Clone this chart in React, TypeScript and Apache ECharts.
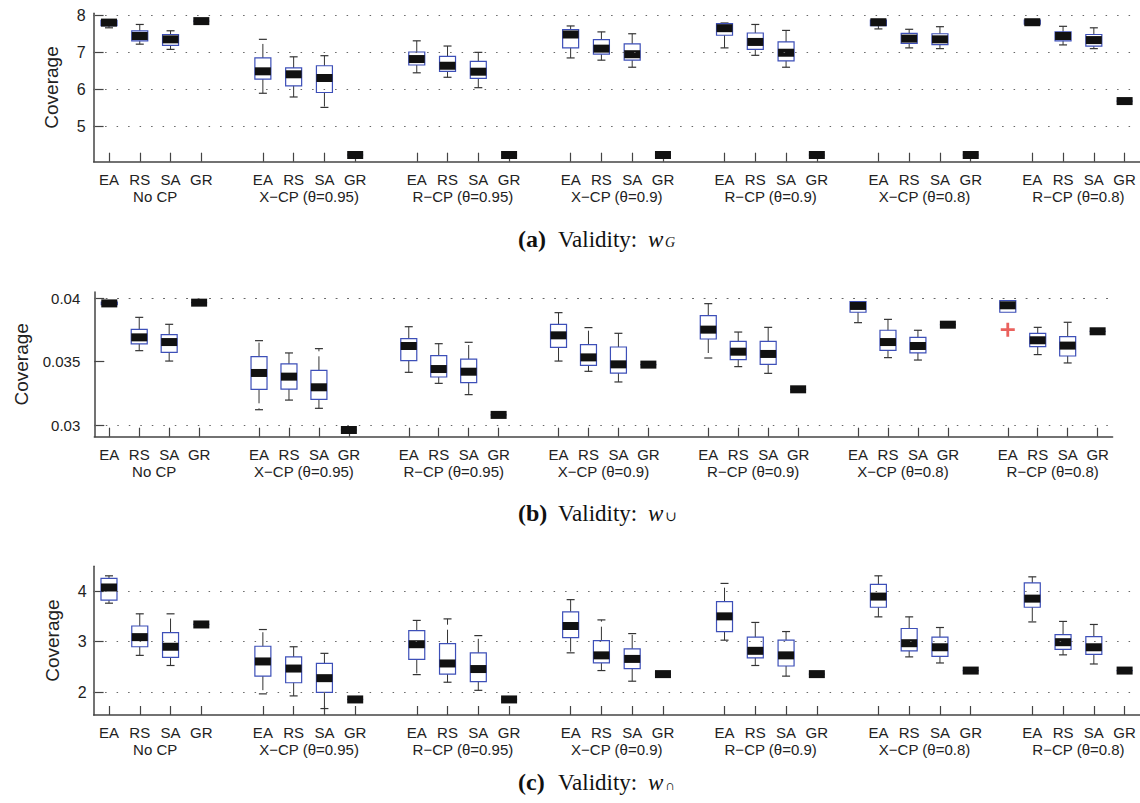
import React, { useEffect, useRef } from 'react';
import * as echarts from 'echarts';

// ---- categories ----
const groups = ['No CP', 'X−CP (θ=0.95)', 'R−CP (θ=0.95)', 'X−CP (θ=0.9)', 'R−CP (θ=0.9)', 'X−CP (θ=0.8)', 'R−CP (θ=0.8)'];
const methods = ['EA', 'RS', 'SA', 'GR'];

// ---- panel (a) Validity w_G : [min, q1, median, q3, max] per group ----
const aEA = [[7.66, 7.72, 7.8, 7.86, 7.88], [5.9, 6.28, 6.49, 6.85, 7.35], [6.45, 6.66, 6.82, 7.01, 7.31], [6.85, 7.12, 7.48, 7.61, 7.71], [7.12, 7.46, 7.65, 7.77, 7.79], [7.63, 7.72, 7.81, 7.87, 7.87], [7.76, 7.76, 7.81, 7.87, 7.87]];
const aRS = [[7.22, 7.31, 7.44, 7.58, 7.75], [5.8, 6.1, 6.41, 6.58, 6.88], [6.33, 6.49, 6.64, 6.89, 7.17], [6.79, 6.95, 7.1, 7.34, 7.55], [6.92, 7.08, 7.28, 7.52, 7.75], [7.12, 7.24, 7.37, 7.51, 7.62], [7.2, 7.31, 7.44, 7.55, 7.7]];
const aSA = [[7.08, 7.19, 7.35, 7.48, 7.58], [5.52, 5.92, 6.31, 6.64, 6.91], [6.05, 6.3, 6.48, 6.76, 7.0], [6.6, 6.79, 6.95, 7.23, 7.5], [6.6, 6.77, 6.99, 7.28, 7.59], [7.1, 7.21, 7.35, 7.5, 7.69], [7.1, 7.17, 7.33, 7.48, 7.66]];
const aGR = [7.84, 4.24, 4.24, 4.24, 4.24, 4.24, 5.69];

// ---- panel (b) Validity w_∪ ----
const bEA = [[0.0395, 0.0395, 0.0396, 0.0397, 0.0397], [0.03121, 0.03282, 0.03411, 0.0354, 0.03666], [0.03416, 0.03508, 0.03624, 0.03682, 0.03776], [0.03505, 0.03613, 0.03708, 0.03795, 0.03887], [0.03529, 0.03679, 0.03753, 0.03863, 0.03958], [0.03808, 0.0389, 0.0394, 0.03974, 0.03974], [0.0389, 0.0389, 0.03945, 0.03982, 0.03982]];
const bRS = [[0.03587, 0.0364, 0.03692, 0.03755, 0.0385], [0.03197, 0.03284, 0.03382, 0.03482, 0.03569], [0.03329, 0.03379, 0.03442, 0.03548, 0.03642], [0.03424, 0.03471, 0.03534, 0.03634, 0.03769], [0.03461, 0.03516, 0.03579, 0.0366, 0.03734], [0.03532, 0.0359, 0.03655, 0.03748, 0.03834], [0.03556, 0.03619, 0.03669, 0.03724, 0.03771]];
const bSA = [[0.03505, 0.03574, 0.03655, 0.03713, 0.03795], [0.03132, 0.03203, 0.03298, 0.03432, 0.03603], [0.0324, 0.03335, 0.03421, 0.03521, 0.03653], [0.0334, 0.0341, 0.03479, 0.03616, 0.03724], [0.03408, 0.03479, 0.03561, 0.0366, 0.03771], [0.03513, 0.03569, 0.03624, 0.03692, 0.03748], [0.0349, 0.03545, 0.03627, 0.03698, 0.03811]];
const bGR = [0.03966, 0.02961, 0.0308, 0.03477, 0.03282, 0.03792, 0.0374];
const bOutliers = [[6, 0, 0.03753]]; // [group, method, value]

// ---- panel (c) Validity w_∩ ----
const cEA = [[3.76, 3.82, 4.07, 4.25, 4.3], [1.97, 2.32, 2.61, 2.91, 3.24], [2.35, 2.65, 2.95, 3.22, 3.42], [2.78, 3.08, 3.31, 3.59, 3.83], [3.03, 3.2, 3.5, 3.79, 4.15], [3.49, 3.68, 3.89, 4.13, 4.3], [3.39, 3.68, 3.85, 4.16, 4.28]];
const cRS = [[2.73, 2.9, 3.09, 3.31, 3.55], [1.93, 2.19, 2.47, 2.7, 2.9], [2.2, 2.36, 2.57, 2.96, 3.45], [2.43, 2.58, 2.73, 3.02, 3.43], [2.53, 2.68, 2.82, 3.09, 3.38], [2.7, 2.82, 2.97, 3.26, 3.49], [2.74, 2.85, 2.99, 3.14, 3.4]];
const cSA = [[2.53, 2.69, 2.9, 3.18, 3.55], [1.68, 2.0, 2.28, 2.57, 2.77], [2.04, 2.21, 2.46, 2.78, 3.12], [2.22, 2.47, 2.66, 2.86, 3.16], [2.32, 2.52, 2.73, 3.03, 3.2], [2.58, 2.71, 2.89, 3.09, 3.28], [2.56, 2.75, 2.89, 3.1, 3.34]];
const cGR = [3.34, 1.86, 1.86, 2.36, 2.36, 2.43, 2.43];

// ---- y ticks ----
const aTicks = [5, 6, 7, 8];
const bTicks = [0.03, 0.035, 0.04];
const cTicks = [2, 3, 4];

const captionLetters = ['(a)', '(b)', '(c)'];
const captionSubs = ['G', '∪', '∩'];

const SANS = "'Liberation Sans', Arial, Helvetica, sans-serif";
const SERIF = "'Liberation Serif', 'DejaVu Serif', serif";

const categories: string[] = [];
groups.forEach((g, gi) => {
  methods.forEach((m) => categories.push(`${m}|${gi}`));
  if (gi < groups.length - 1) categories.push(`|${gi}`);
});
const slotOf = (g: number, m: number) => g * 5 + m;

function buildBoxData(ea: number[][], rs: number[][], sa: number[][], gr: number[]) {
  const out: number[][] = [];
  groups.forEach((_, g) => {
    out.push([slotOf(g, 0), ...ea[g]]);
    out.push([slotOf(g, 1), ...rs[g]]);
    out.push([slotOf(g, 2), ...sa[g]]);
    out.push([slotOf(g, 3), gr[g], gr[g], gr[g], gr[g], gr[g]]);
  });
  return out;
}

const renderBox = (params: any, api: any) => {
  const slot = api.value(0);
  const mn = api.value(1), q1 = api.value(2), md = api.value(3), q3 = api.value(4), mx = api.value(5);
  const x = api.coord([slot, md])[0];
  const y = (v: number) => api.coord([slot, v])[1];
  const hw = 8, cw = 4;
  const children: any[] = [];
  const wStyle = { stroke: '#333', lineWidth: 1, lineDash: [14, 5] };
  const cStyle = { stroke: '#333', lineWidth: 1.2 };
  if (mx > q3) {
    children.push({ type: 'line', shape: { x1: x, y1: y(q3), x2: x, y2: y(mx) }, style: wStyle });
    children.push({ type: 'line', shape: { x1: x - cw, y1: y(mx), x2: x + cw, y2: y(mx) }, style: cStyle });
  }
  if (mn < q1) {
    children.push({ type: 'line', shape: { x1: x, y1: y(q1), x2: x, y2: y(mn) }, style: wStyle });
    children.push({ type: 'line', shape: { x1: x - cw, y1: y(mn), x2: x + cw, y2: y(mn) }, style: cStyle });
  }
  children.push({ type: 'rect', shape: { x: x - hw, y: y(q3), width: 2 * hw, height: y(q1) - y(q3) }, style: { fill: 'none', stroke: '#3d4fb8', lineWidth: 1.2 } });
  children.push({ type: 'rect', shape: { x: x - hw, y: y(md) - 4, width: 2 * hw, height: 8 }, style: { fill: '#111' } });
  return { type: 'group', children };
};

const makeLabelRenderer = (yMin: number) => (params: any, api: any) => {
  const g = params.dataIndex;
  const p1 = api.coord([slotOf(g, 1), yMin]);
  const p2 = api.coord([slotOf(g, 2), yMin]);
  return {
    type: 'text',
    x: (p1[0] + p2[0]) / 2,
    y: p1[1] + 27,
    style: { text: groups[g], align: 'center', verticalAlign: 'top', fontSize: 15, fontFamily: SANS, fill: '#222' },
  };
};

const panels = [
  { data: buildBoxData(aEA, aRS, aSA, aGR), ticks: aTicks, min: 4.06, max: 8.05, grid: { left: 93.6, top: 13.3, width: 1048.3, height: 148.4 }, labelFont: 16, labelMargin: 8, nameGap: 33 },
  { data: buildBoxData(bEA, bRS, bSA, bGR), ticks: bTicks, min: 0.02908, max: 0.0405, grid: { left: 94.3, top: 292, width: 1018.3, height: 144.7 }, labelFont: 15, labelMargin: 14, nameGap: 63 },
  { data: buildBoxData(cEA, cRS, cSA, cGR), ticks: cTicks, min: 1.553, max: 4.49, grid: { left: 93.6, top: 566.2, width: 1048.3, height: 148.8 }, labelFont: 16, labelMargin: 7, nameGap: 32 },
];

const captionY = [240, 514, 783];

export default function App() {
  const ref = useRef<HTMLDivElement>(null);
  useEffect(() => {
    document.body.style.margin = '0';
    if (!ref.current) return;
    const chart = echarts.init(ref.current, null, { renderer: 'svg' });
    const axisColor = '#444';
    const option: any = {
      animation: false,
      backgroundColor: '#fff',
      grid: panels.map((p) => ({ ...p.grid, containLabel: false })),
      xAxis: panels.map((p, i) => ({
        type: 'category',
        gridIndex: i,
        data: categories,
        boundaryGap: true,
        axisLine: { show: true, lineStyle: { color: axisColor, width: 1.5 } },
        axisTick: {
          show: true, inside: true, length: 9, alignWithLabel: true,
          interval: (idx: number, val: string) => !String(val).startsWith('|'),
          lineStyle: { color: axisColor, width: 1.2 },
        },
        axisLabel: {
          interval: 0, margin: 10, fontSize: 15, fontFamily: SANS, color: '#222',
          formatter: (v: string) => String(v).split('|')[0],
        },
        splitLine: { show: false },
      })),
      yAxis: panels.map((p, i) => ({
        type: 'value',
        gridIndex: i,
        min: p.min,
        max: p.max,
        axisLine: { show: true, lineStyle: { color: axisColor, width: 1.5 } },
        axisTick: { show: true, inside: true, length: 10, customValues: p.ticks, lineStyle: { color: axisColor, width: 1.2 } },
        axisLabel: { customValues: p.ticks, margin: p.labelMargin, fontSize: p.labelFont, fontFamily: SANS, color: '#222' },
        splitLine: { show: false },
        name: 'Coverage',
        nameLocation: 'middle',
        nameGap: p.nameGap,
        nameTextStyle: { fontSize: 19, fontFamily: SANS, color: '#222' },
      })),
      series: [
        ...panels.map((p, i) => ({
          type: 'custom',
          name: `boxes${i}`,
          xAxisIndex: i,
          yAxisIndex: i,
          clip: false,
          encode: { x: 0, y: [1, 2, 3, 4, 5] },
          data: p.data,
          renderItem: renderBox,
          markLine: {
            silent: true,
            symbol: ['none', 'none'],
            label: { show: false },
            lineStyle: { type: [1.5, 10], color: '#666', width: 1.2 },
            data: p.ticks.map((t) => ({ yAxis: t })),
          },
          z: 2,
        })),
        ...panels.map((p, i) => ({
          type: 'custom',
          name: `groupLabels${i}`,
          xAxisIndex: i,
          yAxisIndex: i,
          clip: false,
          silent: true,
          data: groups.map((_, g) => [slotOf(g, 1), p.min]),
          renderItem: makeLabelRenderer(p.min),
        })),
        {
          type: 'scatter',
          xAxisIndex: 1,
          yAxisIndex: 1,
          symbol: 'path://M4 0H6V4H10V6H6V10H4V6H0V4H4Z',
          symbolSize: 14,
          itemStyle: { color: '#e53935' },
          data: bOutliers.map(([g, m, v]) => [slotOf(g, m), v]),
          z: 3,
        },
      ],
      graphic: captionLetters.map((letter, i) => ({
        type: 'group',
        left: 518,
        top: captionY[i] - 13,
        children: [
          { type: 'text', x: 0, y: 0, style: { text: letter, fontSize: 24, fontWeight: 'bold', fontFamily: SERIF, fill: '#111', verticalAlign: 'top' } },
          { type: 'text', x: 40, y: 1, style: { text: 'Validity:', fontSize: 23, fontFamily: SERIF, fill: '#111', verticalAlign: 'top' } },
          { type: 'text', x: 130, y: 1, style: { text: 'w', fontSize: 23, fontStyle: 'italic', fontFamily: SERIF, fill: '#111', verticalAlign: 'top' } },
          { type: 'text', x: 147, y: 8, style: { text: captionSubs[i], fontSize: 14, fontStyle: i === 0 ? 'italic' : 'normal', fontFamily: SERIF, fill: '#111', verticalAlign: 'top' } },
        ],
      })),
    };
    chart.setOption(option);
    return () => chart.dispose();
  }, []);
  return <div ref={ref} style={{ width: 1140, height: 803 }} />;
}
